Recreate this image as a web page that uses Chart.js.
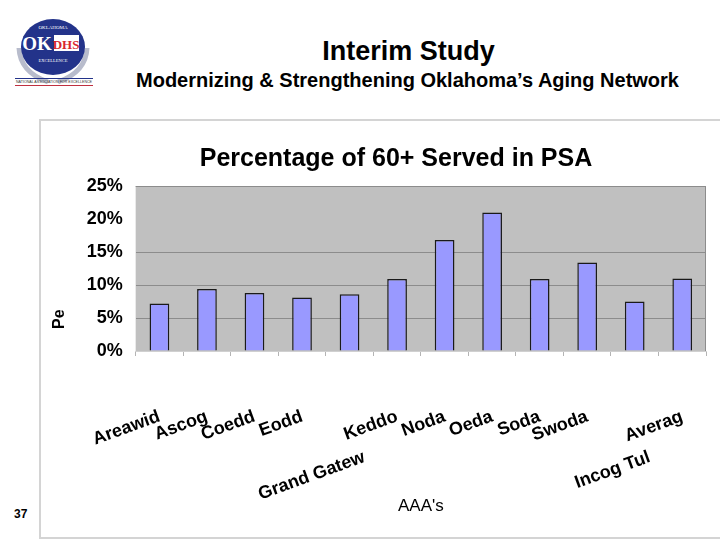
<!DOCTYPE html>
<html>
<head>
<meta charset="utf-8">
<script src="https://cdn.jsdelivr.net/npm/chart.js@4.4.1/dist/chart.umd.min.js"></script>
<style>
  html, body { margin: 0; padding: 0; background: #fff; }
  body { width: 720px; height: 540px; position: relative; overflow: hidden; font-family: "Liberation Sans", Arial, sans-serif; }
  #logo { position: absolute; left: 10px; top: 10px; }
  #title { position: absolute; left: 0; width: 817px; top: 36px; text-align: center; font-size: 27px; font-weight: bold; color: #000; }
  #subtitle { position: absolute; left: 0; width: 815px; top: 69px; text-align: center; font-size: 20px; font-weight: bold; color: #000; }
  #frame { position: absolute; left: 39px; top: 119px; width: 760px; height: 416px; border: 2px solid #d4d4d4; }
  #wrap { position: absolute; left: 40px; top: 120px; width: 712px; height: 417px; }
  #page { position: absolute; left: 14px; top: 507px; font-size: 12px; font-weight: bold; }
</style>
</head>
<body>
<svg id="logo" width="90" height="78" viewBox="0 0 90 78">
  <path d="M9 38 Q10 62 38 72" stroke="#b8bccc" stroke-width="5" fill="none"/>
  <path d="M77 38 Q76 62 48 72" stroke="#b8bccc" stroke-width="5" fill="none"/>
  <ellipse cx="43" cy="37" rx="32" ry="28" fill="#23338a"/>
  <text x="43" y="19" font-size="5" fill="#fff" text-anchor="middle" font-family="Liberation Serif">OKLAHOMA</text>
  <rect x="44" y="25" width="25" height="16" fill="#fff"/>
  <text x="27" y="40" font-size="19" font-weight="bold" fill="#fff" text-anchor="middle" font-family="Liberation Serif">OK</text>
  <text x="56" y="39" font-size="13" font-weight="bold" fill="#d8262e" text-anchor="middle" font-family="Liberation Serif">DHS</text>
  <text x="43" y="52" font-size="4.5" fill="#fff" text-anchor="middle" font-family="Liberation Serif">EXCELLENCE</text>
  <rect x="5" y="68" width="78" height="1" fill="#23338a"/>
  <text x="44" y="73" font-size="3.6" fill="#333" text-anchor="middle">NATIONAL ASSOCIATION FOR EXCELLENCE</text>
  <rect x="5" y="75" width="78" height="1" fill="#c03040"/>
</svg>
<div id="title">Interim Study</div>
<div id="subtitle">Modernizing &amp; Strengthening Oklahoma’s Aging Network</div>
<div id="frame"></div>
<div id="wrap"><canvas id="chart"></canvas></div>
<div id="page">37</div>

<script>
// AAA categories (labels as they appear on the slide; blank lines push the staggered ones down)
const categories = [
  "Areawid", "Ascog", "Coedd", "Eodd", ["", "", "Grand Gatew"], "Keddo",
  "Noda", "Oeda", "Soda", "Swoda", ["", "", "Incog Tul"], "Averag"
];
// percentage of 60+ population served in each planning and service area
const servedPct = [7.2, 9.4, 8.8, 8.1, 8.6, 10.9, 16.8, 21.0, 10.9, 13.4, 7.5, 11.0];
const yTickValues = [0, 5, 10, 15, 20, 25];

const plotFrame = {
  id: "plotFrame",
  beforeDraw(chart) {
    const { ctx, chartArea: a } = chart;
    ctx.save();
    ctx.fillStyle = "#c0c0c0";
    ctx.fillRect(a.left, a.top, a.right - a.left, a.bottom - a.top);
    ctx.restore();
  },
  afterDraw(chart) {
    const { ctx, chartArea: a } = chart;
    ctx.save();
    ctx.strokeStyle = "#8c8c8c";
    ctx.lineWidth = 1;
    ctx.beginPath();
    ctx.moveTo(a.left, a.top + 0.5);
    ctx.lineTo(a.right - 0.5, a.top + 0.5);
    ctx.lineTo(a.right - 0.5, a.bottom);
    ctx.stroke();
    // truncated y-axis title
    ctx.translate(a.left - 68, a.bottom - 22);
    ctx.rotate(-Math.PI / 2);
    ctx.font = "bold 16px 'Liberation Sans', Arial";
    ctx.fillStyle = "#000";
    ctx.textAlign = "left";
    ctx.textBaseline = "bottom";
    ctx.fillText("Pe", 0, 0);
    ctx.restore();
  }
};

new Chart(document.getElementById("chart"), {
  type: "bar",
  data: {
    labels: categories,
    datasets: [{
      data: servedPct,
      backgroundColor: "#9999ff",
      borderColor: "#1a1a1a",
      borderWidth: 1.5,
      barPercentage: 0.5,
      categoryPercentage: 0.83
    }]
  },
  options: {
    responsive: true,
    maintainAspectRatio: false,
    animation: false,
    layout: { padding: { top: 6, right: 0, bottom: 10, left: 0 } },
    plugins: {
      legend: { display: false },
      tooltip: { enabled: false },
      title: {
        display: true,
        text: "Percentage of 60+ Served in PSA",
        color: "#000",
        font: { family: "'Liberation Sans', Arial", size: 25, weight: "bold" },
        padding: { top: 18, bottom: 12 }
      }
    },
    scales: {
      x: {
        grid: { display: true, drawOnChartArea: false, drawTicks: true, tickLength: 5, color: "#b4b4b4" },
        border: { color: "#d0d0d0" },
        ticks: {
          color: "#000",
          autoSkip: false,
          minRotation: 20,
          maxRotation: 20,
          padding: 50,
          font: { family: "'Liberation Sans', Arial", size: 18, weight: "bold" }
        },
        title: {
          display: true,
          text: "AAA's",
          color: "#000",
          font: { family: "'Liberation Sans', Arial", size: 17 },
          padding: { top: 4, bottom: 10 }
        },
        afterFit(scale) { scale.height = 176; }
      },
      y: {
        min: 0,
        max: 25,
        afterBuildTicks(scale) { scale.ticks = yTickValues.map(v => ({ value: v })); },
        grid: {
          drawTicks: false,
          color: ctx => (ctx.tick && ctx.tick.value === 20) ? "rgba(0,0,0,0)" : "#8c8c8c"
        },
        border: { display: false },
        ticks: {
          color: "#000",
          padding: 13,
          font: { family: "'Liberation Sans', Arial", size: 18, weight: "bold" },
          callback: v => v + "%"
        },
        afterFit(scale) { scale.width = 87; }
      },
      // empty right-hand margin of the original chart object
      yRight: {
        position: "right",
        min: 0,
        max: 25,
        grid: { drawOnChartArea: false, drawTicks: false },
        border: { display: false },
        ticks: { display: false },
        afterFit(scale) { scale.width = 46; }
      }
    }
  },
  plugins: [plotFrame]
});
</script>
</body>
</html>
